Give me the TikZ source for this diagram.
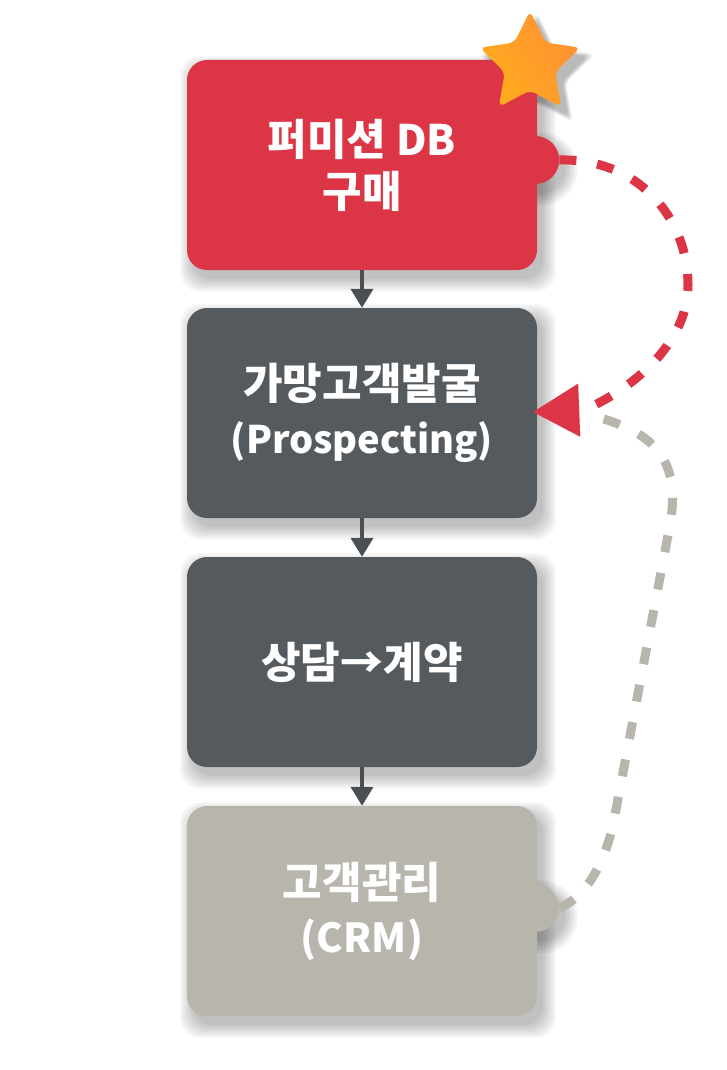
\documentclass[tikz,border=0pt]{standalone}
\usepackage{fontspec}
\setmainfont{Noto Sans CJK KR}
\usetikzlibrary{arrows.meta,shapes.geometric,calc}
\definecolor{cred}{HTML}{DC3545}
\definecolor{cdark}{HTML}{555A5F}
\definecolor{cbeige}{HTML}{B8B5AD}
\definecolor{carrow}{HTML}{4A4F54}
\definecolor{cstarA}{HTML}{FFAC1C}
\definecolor{cstarB}{HTML}{FF9035}
\pgfdeclarelayer{bgwhite}
\pgfdeclarelayer{shadowlayer}
\pgfsetlayers{bgwhite,shadowlayer,main}
\newcommand\myboxshadow[1]{%
  \begin{pgfonlayer}{shadowlayer}
  \foreach \i in {0,...,5}{%
    \fill[black,opacity=0.045,rounded corners=20pt]
      ($(#1.north west)+(6-2.5*\i,9-2.5*\i)$) rectangle ($(#1.south east)+(6+2.5*\i,9+2.5*\i)$);}
  \end{pgfonlayer}}
\newcommand\mybumpshadow[1]{%
  \begin{pgfonlayer}{shadowlayer}
  \foreach \i in {0,...,5}{%
    \fill[black,opacity=0.045] ($(#1.center)+(6,9)$) circle[radius=24+2.5*\i];}
  \end{pgfonlayer}}
\newcommand\lat[2][38]{{\fontsize{#1}{52}\selectfont #2}}
\begin{document}
\begin{tikzpicture}[x=1pt,y=-1pt,
  box/.style={rounded corners=20pt, minimum width=350pt, minimum height=210pt,
    text=white, align=center, inner sep=0pt,
    font=\bfseries\fontsize{43}{53}\selectfont},
  bumpshape/.style={circle, minimum size=48pt, inner sep=0pt},
  conn/.style={draw=carrow, line width=4pt, -{Triangle[length=19pt,width=22pt]}},
  dashline/.style={line width=9pt, dash pattern=on 17pt off 21pt},
  starshape/.style={star, star points=5, star point ratio=2.0, minimum size=106pt,
    inner sep=0pt, rounded corners=6pt},
]
\useasboundingbox (0,0) rectangle (727,1070);
\begin{pgfonlayer}{bgwhite}
\fill[white] (0,0) rectangle (727,1070);
\end{pgfonlayer}

% boxes
\node[box, fill=cred] (b1) at (362,165) {퍼미션 \lat[42]{DB}\\[-1pt]구매};
\node[box, fill=cdark] (b2) at (362,413) {가망고객발굴\\[1pt]\lat{(Prospecting)}};
\node[box, fill=cdark] (b3) at (362,662) {상담→계약};
\node[box, fill=cbeige] (b4) at (362,911) {고객관리\\[1pt]\lat[40]{(CRM)}};

% bumps
\node[bumpshape, fill=cred] (bump1) at ($(b1.east)+(-2,-5)$) {};
\node[bumpshape, fill=cbeige] (bump4) at ($(b4.east)+(-2,-3)$) {};

\myboxshadow{b1}\myboxshadow{b2}\myboxshadow{b3}\myboxshadow{b4}
\mybumpshadow{bump1}\mybumpshadow{bump4}

% star
\begin{pgfonlayer}{shadowlayer}
\foreach \i in {0,...,4}{%
  \node[starshape, fill=black, opacity=0.06, minimum size=106pt+4pt*\i] (starsh\i) at (537,73) {};}
\end{pgfonlayer}
\node[starshape, left color=cstarA, right color=cstarB, shading angle=120] (star) at (530,64) {};

% flow arrows
\draw[conn] (b1.south) -- (b2.north);
\draw[conn] (b2.south) -- (b3.north);
\draw[conn] (b3.south) -- (b4.north);

% dashed feedback connectors
\coordinate (tip) at ($(b2.east)+(-4,-1)$);
\draw[dashline, draw=cbeige] (bump4.east)
  .. controls (590,895) and (607,855) .. (614,820)
  -- (669,530)
  .. controls (684,455) and (650,430) .. (586,414);
\draw[dashline, draw=cred, -{Triangle[length=46pt,width=53pt,line width=0.01pt]}] (bump1.east)
  .. controls (640,158) and (688,220) .. (688,285)
  .. controls (688,345) and (630,390) .. (584,410)
  -- (tip);
\end{tikzpicture}
\end{document}
